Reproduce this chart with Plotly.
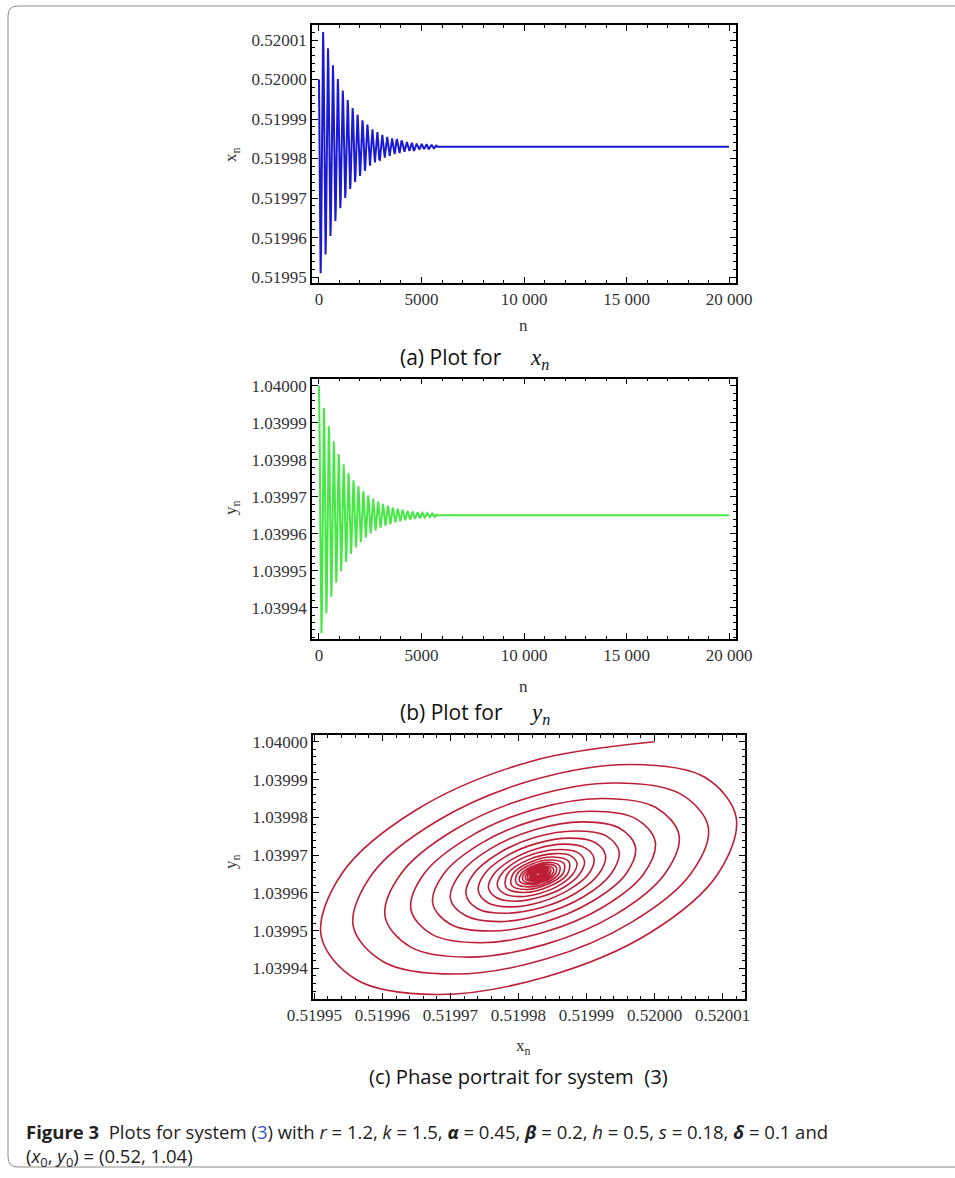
import plotly.graph_objects as go

# ---------------- data ----------------
# iteration index n: 12 samples per turn for the first 10 turns, 8 per turn after, then the settled tail
n_values = [
    0, 20, 40, 60, 80, 100, 120, 140, 160, 180, 200, 220,
    240, 260, 280, 300, 320, 340, 360, 380, 400, 420, 440, 460,
    480, 500, 520, 540, 560, 580, 600, 620, 640, 660, 680, 700,
    720, 740, 760, 780, 800, 820, 840, 860, 880, 900, 920, 940,
    960, 980, 1000, 1020, 1040, 1060, 1080, 1100, 1120, 1140, 1160, 1180,
    1200, 1220, 1240, 1260, 1280, 1300, 1320, 1340, 1360, 1380, 1400, 1420,
    1440, 1460, 1480, 1500, 1520, 1540, 1560, 1580, 1600, 1620, 1640, 1660,
    1680, 1700, 1720, 1740, 1760, 1780, 1800, 1820, 1840, 1860, 1880, 1900,
    1920, 1940, 1960, 1980, 2000, 2020, 2040, 2060, 2080, 2100, 2120, 2140,
    2160, 2180, 2200, 2220, 2240, 2260, 2280, 2300, 2320, 2340, 2360, 2380,
    2400, 2430, 2460, 2490, 2520, 2550, 2580, 2610,
    2640, 2670, 2700, 2730, 2760, 2790, 2820, 2850,
    2880, 2910, 2940, 2970, 3000, 3030, 3060, 3090,
    3120, 3150, 3180, 3210, 3240, 3270, 3300, 3330,
    3360, 3390, 3420, 3450, 3480, 3510, 3540, 3570,
    3600, 3630, 3660, 3690, 3720, 3750, 3780, 3810,
    3840, 3870, 3900, 3930, 3960, 3990, 4020, 4050,
    4080, 4110, 4140, 4170, 4200, 4230, 4260, 4290,
    4320, 4350, 4380, 4410, 4440, 4470, 4500, 4530,
    4560, 4590, 4620, 4650, 4680, 4710, 4740, 4770,
    4800, 4830, 4860, 4890, 4920, 4950, 4980, 5010,
    5040, 5070, 5100, 5130, 5160, 5190, 5220, 5250,
    5280, 5310, 5340, 5370, 5400, 5430, 5460, 5490,
    5520, 5550, 5580, 5610, 5640, 5670, 5700, 5730,
    5760, 20000,
]

x_values = [
    0.5200000, 0.5199818, 0.5199650, 0.5199540, 0.5199510, 0.5199562, 0.5199680, 0.5199841, 0.5199994, 0.5200093, 0.5200120, 0.5200074,
    0.5199966, 0.5199820, 0.5199681, 0.5199585, 0.5199557, 0.5199602, 0.5199706, 0.5199839, 0.5199966, 0.5200053, 0.5200079, 0.5200038,
    0.5199943, 0.5199822, 0.5199706, 0.5199627, 0.5199604, 0.5199641, 0.5199727, 0.5199838, 0.5199943, 0.5200015, 0.5200036, 0.5200002,
    0.5199924, 0.5199823, 0.5199727, 0.5199661, 0.5199642, 0.5199673, 0.5199744, 0.5199836, 0.5199924, 0.5199984, 0.5200001, 0.5199973,
    0.5199908, 0.5199824, 0.5199745, 0.5199690, 0.5199674, 0.5199700, 0.5199759, 0.5199835, 0.5199908, 0.5199958, 0.5199972, 0.5199949,
    0.5199895, 0.5199825, 0.5199759, 0.5199714, 0.5199700, 0.5199722, 0.5199771, 0.5199834, 0.5199895, 0.5199936, 0.5199948, 0.5199929,
    0.5199884, 0.5199826, 0.5199771, 0.5199734, 0.5199723, 0.5199740, 0.5199781, 0.5199834, 0.5199884, 0.5199918, 0.5199928, 0.5199912,
    0.5199875, 0.5199827, 0.5199781, 0.5199750, 0.5199741, 0.5199755, 0.5199789, 0.5199833, 0.5199874, 0.5199903, 0.5199911, 0.5199898,
    0.5199867, 0.5199827, 0.5199790, 0.5199764, 0.5199756, 0.5199768, 0.5199796, 0.5199832, 0.5199867, 0.5199890, 0.5199897, 0.5199886,
    0.5199861, 0.5199828, 0.5199796, 0.5199775, 0.5199769, 0.5199779, 0.5199802, 0.5199832, 0.5199861, 0.5199880, 0.5199886, 0.5199877,
    0.5199855, 0.5199815, 0.5199784, 0.5199782, 0.5199807, 0.5199844, 0.5199872, 0.5199874,
    0.5199851, 0.5199817, 0.5199792, 0.5199790, 0.5199811, 0.5199842, 0.5199865, 0.5199867,
    0.5199848, 0.5199819, 0.5199798, 0.5199797, 0.5199814, 0.5199840, 0.5199859, 0.5199860,
    0.5199845, 0.5199821, 0.5199804, 0.5199802, 0.5199817, 0.5199838, 0.5199854, 0.5199855,
    0.5199842, 0.5199823, 0.5199808, 0.5199807, 0.5199819, 0.5199837, 0.5199850, 0.5199851,
    0.5199840, 0.5199824, 0.5199812, 0.5199811, 0.5199821, 0.5199836, 0.5199846, 0.5199847,
    0.5199838, 0.5199825, 0.5199815, 0.5199814, 0.5199822, 0.5199835, 0.5199844, 0.5199844,
    0.5199837, 0.5199826, 0.5199818, 0.5199817, 0.5199824, 0.5199834, 0.5199841, 0.5199842,
    0.5199836, 0.5199827, 0.5199820, 0.5199819, 0.5199825, 0.5199833, 0.5199839, 0.5199840,
    0.5199835, 0.5199827, 0.5199821, 0.5199821, 0.5199826, 0.5199833, 0.5199838, 0.5199838,
    0.5199834, 0.5199828, 0.5199823, 0.5199823, 0.5199826, 0.5199832, 0.5199836, 0.5199837,
    0.5199833, 0.5199828, 0.5199824, 0.5199824, 0.5199827, 0.5199832, 0.5199835, 0.5199836,
    0.5199833, 0.5199828, 0.5199825, 0.5199825, 0.5199828, 0.5199832, 0.5199834, 0.5199835,
    0.5199832, 0.5199829, 0.5199826, 0.5199826, 0.5199828, 0.5199831, 0.5199834, 0.5199834,
    0.5199830, 0.5199830,
]

y_values = [
    1.0400000, 1.0399948, 1.0399820, 1.0399650, 1.0399486, 1.0399370, 1.0399331, 1.0399378, 1.0399495, 1.0399650, 1.0399800, 1.0399906,
    1.0399940, 1.0399898, 1.0399791, 1.0399650, 1.0399513, 1.0399417, 1.0399385, 1.0399424, 1.0399522, 1.0399650, 1.0399774, 1.0399862,
    1.0399891, 1.0399856, 1.0399767, 1.0399650, 1.0399537, 1.0399457, 1.0399430, 1.0399463, 1.0399543, 1.0399650, 1.0399753, 1.0399826,
    1.0399850, 1.0399821, 1.0399747, 1.0399650, 1.0399556, 1.0399490, 1.0399468, 1.0399495, 1.0399562, 1.0399650, 1.0399736, 1.0399796,
    1.0399816, 1.0399792, 1.0399731, 1.0399650, 1.0399572, 1.0399517, 1.0399499, 1.0399521, 1.0399577, 1.0399650, 1.0399721, 1.0399771,
    1.0399788, 1.0399768, 1.0399717, 1.0399650, 1.0399585, 1.0399540, 1.0399524, 1.0399543, 1.0399589, 1.0399650, 1.0399709, 1.0399751,
    1.0399764, 1.0399748, 1.0399705, 1.0399650, 1.0399596, 1.0399558, 1.0399546, 1.0399561, 1.0399599, 1.0399650, 1.0399699, 1.0399734,
    1.0399745, 1.0399731, 1.0399696, 1.0399650, 1.0399605, 1.0399574, 1.0399563, 1.0399576, 1.0399608, 1.0399650, 1.0399691, 1.0399719,
    1.0399729, 1.0399717, 1.0399688, 1.0399650, 1.0399613, 1.0399587, 1.0399578, 1.0399589, 1.0399615, 1.0399650, 1.0399684, 1.0399708,
    1.0399715, 1.0399706, 1.0399682, 1.0399650, 1.0399619, 1.0399598, 1.0399590, 1.0399599, 1.0399621, 1.0399650, 1.0399678, 1.0399698,
    1.0399704, 1.0399688, 1.0399650, 1.0399614, 1.0399601, 1.0399616, 1.0399650, 1.0399683,
    1.0399695, 1.0399681, 1.0399650, 1.0399620, 1.0399609, 1.0399622, 1.0399650, 1.0399677,
    1.0399687, 1.0399676, 1.0399650, 1.0399625, 1.0399616, 1.0399626, 1.0399650, 1.0399672,
    1.0399681, 1.0399671, 1.0399650, 1.0399630, 1.0399622, 1.0399630, 1.0399650, 1.0399669,
    1.0399676, 1.0399668, 1.0399650, 1.0399633, 1.0399626, 1.0399634, 1.0399650, 1.0399665,
    1.0399671, 1.0399665, 1.0399650, 1.0399636, 1.0399631, 1.0399637, 1.0399650, 1.0399663,
    1.0399668, 1.0399662, 1.0399650, 1.0399638, 1.0399634, 1.0399639, 1.0399650, 1.0399661,
    1.0399665, 1.0399660, 1.0399650, 1.0399640, 1.0399637, 1.0399641, 1.0399650, 1.0399659,
    1.0399662, 1.0399658, 1.0399650, 1.0399642, 1.0399639, 1.0399642, 1.0399650, 1.0399657,
    1.0399660, 1.0399657, 1.0399650, 1.0399643, 1.0399641, 1.0399644, 1.0399650, 1.0399656,
    1.0399658, 1.0399656, 1.0399650, 1.0399644, 1.0399642, 1.0399645, 1.0399650, 1.0399655,
    1.0399657, 1.0399655, 1.0399650, 1.0399645, 1.0399644, 1.0399646, 1.0399650, 1.0399654,
    1.0399656, 1.0399654, 1.0399650, 1.0399646, 1.0399645, 1.0399646, 1.0399650, 1.0399653,
    1.0399655, 1.0399653, 1.0399650, 1.0399647, 1.0399646, 1.0399647, 1.0399650, 1.0399653,
    1.0399650, 1.0399650,
]

n_ticks = [0, 5000, 10000, 15000, 20000]
n_tick_labels = ["0", "5000", "10 000", "15 000", "20 000"]
x_ticks = [0.51995, 0.51996, 0.51997, 0.51998, 0.51999, 0.52000, 0.52001]
x_tick_labels = ["0.51995", "0.51996", "0.51997", "0.51998", "0.51999", "0.52000", "0.52001"]
y_ticks = [1.03994, 1.03995, 1.03996, 1.03997, 1.03998, 1.03999, 1.04000]
y_tick_labels = ["1.03994", "1.03995", "1.03996", "1.03997", "1.03998", "1.03999", "1.04000"]

# ---------------- figure ----------------
W, H = 955, 1178


def px(x):
    return x / W


def py(y):
    return 1 - y / H


fig = go.Figure()
fig.add_trace(go.Scatter(x=n_values, y=x_values, mode="lines",
                         line=dict(color="rgb(25,25,215)", width=2.0),
                         xaxis="x", yaxis="y", showlegend=False, hoverinfo="skip"))
fig.add_trace(go.Scatter(x=n_values, y=y_values, mode="lines",
                         line=dict(color="rgb(70,232,70)", width=2.0),
                         xaxis="x2", yaxis="y2", showlegend=False, hoverinfo="skip"))
fig.add_trace(go.Scatter(x=x_values, y=y_values, mode="lines",
                         line=dict(color="rgb(190,30,55)", width=1.6, shape="spline", smoothing=1),
                         xaxis="x3", yaxis="y3", showlegend=False, hoverinfo="skip"))

tickfont = dict(family="Liberation Serif, Times New Roman, serif", size=17, color="#333333")
common = dict(showline=True, linecolor="black", linewidth=1.5, mirror="ticks",
              ticks="inside", ticklen=6, tickwidth=1.2, tickcolor="black",
              showgrid=False, zeroline=False, tickfont=tickfont, fixedrange=True,
              automargin=False)


def minor(dt, t0):
    return dict(ticks="inside", ticklen=3, tickwidth=1, tickcolor="black",
                dtick=dt, tick0=t0, showgrid=False)


fig.update_layout(
    template="none",
    width=W, height=H,
    margin=dict(l=0, r=0, t=0, b=0, autoexpand=False),
    paper_bgcolor="white", plot_bgcolor="white",
    showlegend=False,
    xaxis=dict(domain=[px(312), px(736)], range=[-341, 20341], anchor="y",
               tickmode="array", tickvals=n_ticks, ticktext=n_tick_labels,
               minor=minor(1000, 0), **common),
    yaxis=dict(domain=[py(283), py(25)], range=[0.5199485, 0.5200138], anchor="x",
               tickmode="array", tickvals=x_ticks, ticktext=x_tick_labels,
               minor=minor(0.000002, 0.51995), **common),
    xaxis2=dict(domain=[px(312), px(736)], range=[-341, 20341], anchor="y2",
                tickmode="array", tickvals=n_ticks, ticktext=n_tick_labels,
                minor=minor(1000, 0), **common),
    yaxis2=dict(domain=[py(638.5), py(378.5)], range=[1.0399317, 1.0400020], anchor="x2",
                tickmode="array", tickvals=y_ticks, ticktext=y_tick_labels,
                minor=minor(0.000002, 1.03994), **common),
    xaxis3=dict(domain=[px(313), px(745)], range=[0.5199498, 0.5200133], anchor="y3",
                tickmode="array", tickvals=x_ticks, ticktext=x_tick_labels,
                minor=minor(0.000002, 0.51995), **common),
    yaxis3=dict(domain=[py(999), py(735)], range=[1.0399319, 1.0400018], anchor="x3",
                tickmode="array", tickvals=y_ticks, ticktext=y_tick_labels,
                minor=minor(0.000002, 1.03994), **common),
)

serif = "Liberation Serif, Times New Roman, serif"
sans = "Open Sans, Noto Sans, sans-serif"
ann = []


def add_text(x, y, text, size, family, color="#222222", angle=0, xanchor="center"):
    ann.append(dict(x=px(x), y=py(y), xref="paper", yref="paper", text=text,
                    showarrow=False, xanchor=xanchor, yanchor="middle",
                    textangle=angle, font=dict(family=family, size=size, color=color)))


# axis titles
add_text(523, 325, "n", 17, serif, "#333333")
add_text(523, 686, "n", 17, serif, "#333333")
add_text(232, 155, "x<sub>n</sub>", 17, serif, "#333333", angle=-90)
add_text(232, 508, "y<sub>n</sub>", 17, serif, "#333333", angle=-90)
add_text(232, 862, "y<sub>n</sub>", 17, serif, "#333333", angle=-90)
add_text(523, 1047, "x<sub>n</sub>", 17, serif, "#333333")

# sub-figure captions
add_text(398, 357, "(a) Plot for", 21, sans, "#111111", xanchor="left")
add_text(528, 359, "<i>x</i><sub><i>n</i></sub>", 23, serif, "#111111", xanchor="left")
add_text(398, 712, "(b) Plot for", 21, sans, "#111111", xanchor="left")
add_text(528, 714, "<i>y</i><sub><i>n</i></sub>", 23, serif, "#111111", xanchor="left")
add_text(518, 1076, "(c) Phase portrait for system&nbsp;&nbsp;(3)", 20.2, sans, "#111111")

cap1 = ("<b>Figure 3</b>  Plots for system (<span style='color:#3355cc'>3</span>) with "
        "<i>r</i> = 1.2, <i>k</i> = 1.5, <b><i>α</i></b> = 0.45, <b><i>β</i></b> = 0.2, "
        "<i>h</i> = 0.5, <i>s</i> = 0.18, <b><i>δ</i></b> = 0.1 and")
cap2 = "(<i>x</i><sub>0</sub>, <i>y</i><sub>0</sub>) = (0.52, 1.04)"
add_text(24, 1131, cap1, 18.5, sans, "#222222", xanchor="left")
add_text(24, 1157, cap2, 18.5, sans, "#222222", xanchor="left")

fig.update_layout(annotations=ann)

# page border with rounded left corners
fig.add_shape(type="path", xref="paper", yref="paper",
              path=(f"M {px(957)},{py(6)} L {px(18)},{py(6)} Q {px(8)},{py(6)} {px(8)},{py(16)} "
                    f"L {px(8)},{py(1157)} Q {px(8)},{py(1167)} {px(18)},{py(1167)} L {px(957)},{py(1167)}"),
              line=dict(color="#8a8a8a", width=1))

fig.write_html("out.html")
